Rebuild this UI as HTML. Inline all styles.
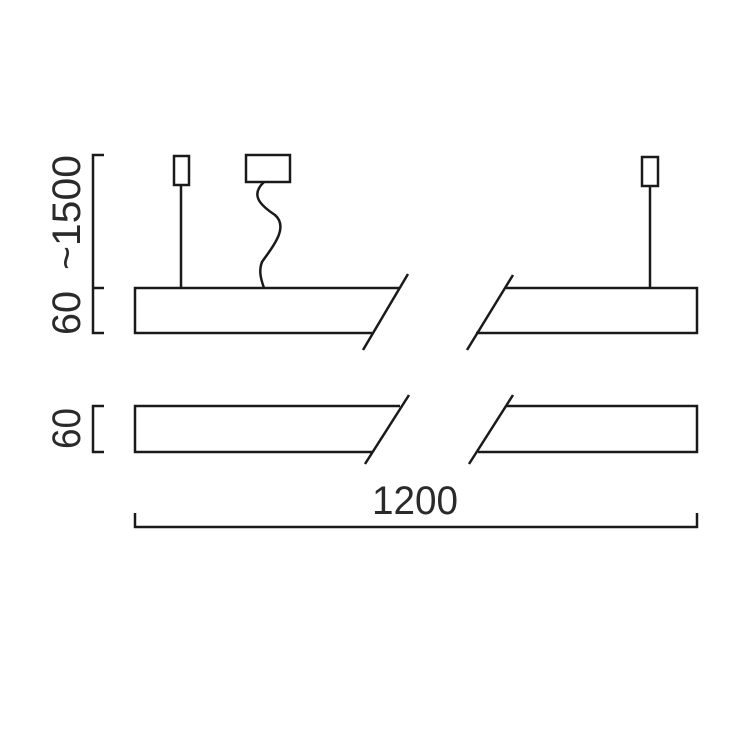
<!DOCTYPE html>
<html><head><meta charset="utf-8"><style>html,body{margin:0;padding:0;background:#fff}svg{display:block}</style></head>
<body>
<svg width="750" height="750" viewBox="0 0 750 750" xmlns="http://www.w3.org/2000/svg">
<g fill="none" stroke="#1a1a1a" stroke-width="2.5" stroke-linecap="butt">
<path d="M104 155 H93 V333 H104 M93 288 H104"/>
<path d="M104 406 H93 V452 H104"/>
<path d="M399 288 H135 V333 H372"/>
<line x1="408" y1="274" x2="363" y2="350"/>
<path d="M506 288 H697 V333 H476"/>
<line x1="513" y1="275" x2="467" y2="350"/>
<rect x="174" y="156" width="15" height="29"/>
<line x1="181" y1="185" x2="181" y2="288"/>
<rect x="246" y="155" width="44" height="27"/>
<path d="M264 182 C 250 195, 260 205, 275 215 C 290 228, 270 250, 262 262 C 258 272, 262 282, 264 288"/>
<rect x="642" y="157" width="16" height="29"/>
<line x1="650" y1="186" x2="650" y2="288"/>
<path d="M400 406 H135 V452 H372"/>
<line x1="409" y1="395" x2="365" y2="464"/>
<path d="M506 406 H697 V452 H478"/>
<line x1="513" y1="395" x2="469" y2="464"/>
<path d="M135 513 V527 H697 V513"/>
</g>
<g fill="#2a2a2a" font-family="Liberation Sans, sans-serif" font-size="40">
<text x="415" y="514" text-anchor="middle" textLength="86" lengthAdjust="spacingAndGlyphs">1200</text>
<text transform="translate(80,335) rotate(-90)" x="0" y="0" textLength="44" lengthAdjust="spacingAndGlyphs">60</text>
<text transform="translate(80,270) rotate(-90)" x="0" y="0" textLength="115" lengthAdjust="spacingAndGlyphs">~1500</text>
<text transform="translate(80,449) rotate(-90)" x="0" y="0" textLength="41" lengthAdjust="spacingAndGlyphs">60</text>
</g>
</svg>
</body></html>
